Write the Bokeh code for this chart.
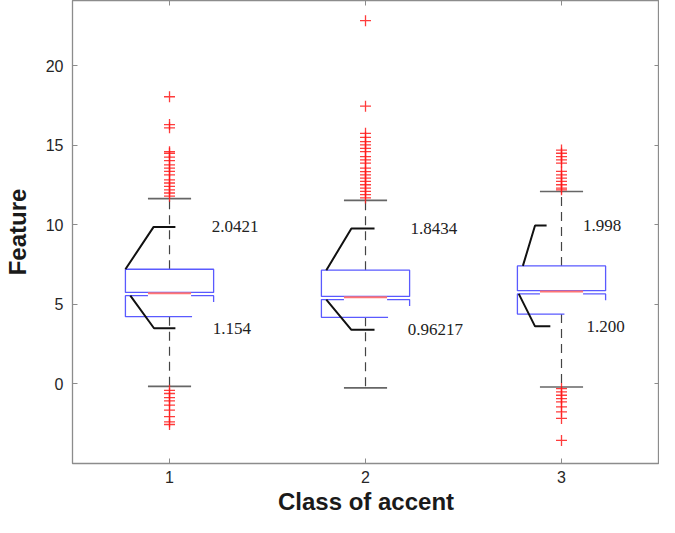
from bokeh.plotting import figure
from bokeh.models import Range1d, LinearAxis, FixedTicker, ColumnDataSource
from bokeh.embed import file_html
from bokeh.resources import INLINE
from bokeh.core.properties import value

# ---------------- data ----------------
classes = [1, 2, 3]
tick_labels_x = ["1", "2", "3"]
q1 = [4.23, 4.19, 4.39]
median = [5.75, 5.50, 5.86]
q3 = [7.21, 7.15, 7.42]
whisker_low = [-0.15, -0.25, -0.19]
whisker_high = [11.65, 11.54, 12.10]

outliers_1 = [18.05, 16.3, 16.1, 14.6, 14.5, 14.25, 14.04, 13.77, 13.56, 13.36,
              13.14, 12.83, 12.63, 12.42, 12.2, 12.0, 11.8,
              -0.4, -0.6, -0.86, -1.06, -1.33, -1.65, -2.06, -2.38, -2.55]
outliers_2 = [22.83, 17.46, 15.75, 15.5, 15.23, 15.02, 14.81, 14.6, 14.29, 14.08,
              13.88, 13.56, 13.35, 13.14, 12.94, 12.73, 12.52, 12.31, 12.1,
              11.9, 11.69]
outliers_3 = [14.7, 14.5, 14.29, 14.08, 13.88, 13.36, 13.14, 12.94, 12.73, 12.52,
              12.31, 12.2,
              -0.29, -0.5, -0.71, -0.92, -1.13, -1.44, -1.75, -2.17, -3.55]

bracket_upper = [9.87, 9.77, 9.96]
bracket_lower = [3.50, 3.40, 3.62]
label_upper = ["2.0421", "1.8434", "1.998"]
label_lower = ["1.154", "0.96217", "1.200"]

# ---------------- layout / style constants ----------------
HALF = 0.225          # box half width
CAP = 0.11            # whisker cap half width
MED_RED = 0.11        # red part of median line
Q1_EDGE_END = [0.115, 0.115, 0.015]   # right end of bottom edge (offset)
UP_BR = [(-0.225, -0.081, 0.030), (-0.200, -0.072, 0.046), (-0.197, -0.135, -0.076)]
LO_BR = [(-0.200, -0.079, 0.030), (-0.200, -0.072, 0.046), (-0.218, -0.135, -0.057)]
LBL_UP_DX = [0.215, 0.23, 0.11]
LBL_LO_DX = [0.22, 0.215, 0.128]
GAP = 0.2             # gap between upper box and lower part

AX_COLOR = "#8c8c8c"
TXT_COLOR = "#262626"
BLUE = "#5a5aff"
RED = "#ff7474"

p = figure(width=659, height=517,
           x_range=Range1d(0.505, 3.5), y_range=Range1d(-5.0, 24.1),
           output_backend="svg", toolbar_location=None,
           min_border_left=68, min_border_right=0, min_border_top=0,
           min_border_bottom=0)
p.grid.visible = False
p.background_fill_color = "white"
p.border_fill_color = "white"
p.outline_line_color = AX_COLOR
p.outline_line_width = 1.3

def style_axis(ax, labels=True):
    ax.axis_line_color = AX_COLOR
    ax.major_tick_line_color = AX_COLOR
    ax.major_tick_in = 5
    ax.major_tick_out = 0
    ax.minor_tick_line_color = None
    if labels:
        ax.major_label_text_font = "Liberation Sans"
        ax.major_label_text_font_size = "16px"
        ax.major_label_text_color = TXT_COLOR
    else:
        ax.major_label_text_font_size = "1px"
        ax.major_label_text_color = None
        ax.major_label_standoff = 0
        ax.axis_line_color = None

xticker = FixedTicker(ticks=classes)
yticker = FixedTicker(ticks=[0, 5, 10, 15, 20])

p.xaxis.ticker = xticker
p.xaxis.major_label_overrides = {c: t for c, t in zip(classes, tick_labels_x)}
p.yaxis.ticker = yticker
style_axis(p.xaxis[0])
style_axis(p.yaxis[0])
p.xaxis.major_label_standoff = 7
p.yaxis.major_label_standoff = 9

p.xaxis.axis_label = "Class of accent"
p.yaxis.axis_label = "Feature"
for ax in (p.xaxis[0], p.yaxis[0]):
    ax.axis_label_text_font = "Liberation Sans"
    ax.axis_label_text_font_style = "bold"
    ax.axis_label_text_font_size = "24px"
    ax.axis_label_text_color = "#1a1a1a"
p.xaxis.axis_label_standoff = 2
p.yaxis.axis_label_standoff = 12

top_ax = LinearAxis(ticker=xticker)
right_ax = LinearAxis(ticker=yticker)
style_axis(top_ax, labels=False)
style_axis(right_ax, labels=False)
p.add_layout(top_ax, "above")
p.add_layout(right_ax, "right")

# ---------------- whiskers ----------------
p.segment(x0=classes, y0=q3, x1=classes, y1=whisker_high,
          line_color="#444444", line_width=1.2, line_dash="9 6")
p.segment(x0=classes, y0=q1, x1=classes, y1=whisker_low,
          line_color="#444444", line_width=1.2, line_dash="9 6")
p.segment(x0=[c - CAP for c in classes], y0=whisker_high,
          x1=[c + CAP for c in classes], y1=whisker_high,
          line_color="#666666", line_width=1.6)
p.segment(x0=[c - CAP for c in classes], y0=whisker_low,
          x1=[c + CAP for c in classes], y1=whisker_low,
          line_color="#666666", line_width=1.6)

# ---------------- boxes ----------------
p.quad(left=[c - HALF for c in classes], right=[c + HALF for c in classes],
       bottom=median, top=q3, fill_color="white", line_color=BLUE, line_width=1.3)
# lower part of the (broken) notched box
xs, ys = [], []
for c, m, b, e in zip(classes, median, q1, Q1_EDGE_END):
    xs.append([c - MED_RED, c - HALF, c - HALF, c + e])
    ys.append([m - GAP, m - GAP, b, b])
    xs.append([c + MED_RED, c + HALF, c + HALF])
    ys.append([m - GAP, m - GAP, m - 0.6])
p.multi_line(xs=xs, ys=ys, line_color=BLUE, line_width=1.3)
p.segment(x0=[c - MED_RED for c in classes], y0=[m - 0.05 for m in median],
          x1=[c + MED_RED for c in classes], y1=[m - 0.05 for m in median],
          line_color=RED, line_width=1.8)

# ---------------- outliers ----------------
ox, oy = [], []
for c, arr in zip(classes, [outliers_1, outliers_2, outliers_3]):
    ox += [c] * len(arr)
    oy += arr
p.scatter(x=ox, y=oy, marker="cross", size=11, line_color="#ff1a1a",
          line_width=1.3, line_alpha=0.85)

# ---------------- brackets + annotations ----------------
bxs, bys = [], []
for c, top, m, yu, yl, ub, lb in zip(classes, q3, median, bracket_upper,
                                      bracket_lower, UP_BR, LO_BR):
    bxs.append([c + ub[0], c + ub[1], c + ub[2]])
    bys.append([top, yu, yu])
    bxs.append([c + lb[0], c + lb[1], c + lb[2]])
    bys.append([m - GAP, yl, yl])
p.multi_line(xs=bxs, ys=bys, line_color="#111111", line_width=2)

src = ColumnDataSource(dict(
    x=[c + d for c, d in zip(classes, LBL_UP_DX)] + [c + d for c, d in zip(classes, LBL_LO_DX)],
    y=bracket_upper + bracket_lower,
    t=label_upper + label_lower))
p.text(x="x", y="y", text="t", source=src, text_font=value("Liberation Serif"),
       text_font_size="17px", text_color="#222222", text_baseline="middle",
       text_align="left")

open("out.html", "w").write(file_html(p, INLINE))
